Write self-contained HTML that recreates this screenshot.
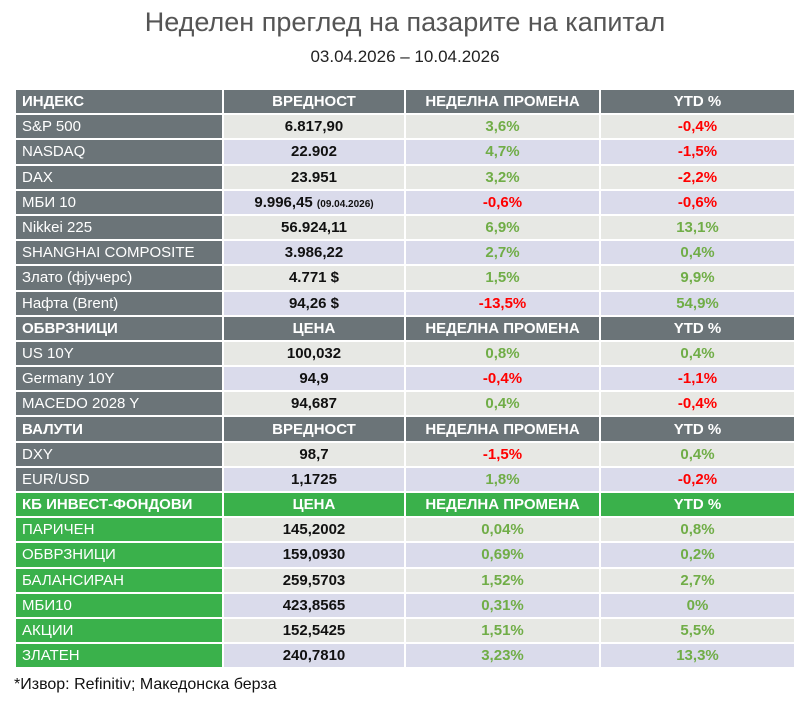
<!DOCTYPE html>
<html><head><meta charset="utf-8"><style>
body{margin:0;width:810px;height:706px;background:#fff;font-family:"Liberation Sans","Noto Sans CJK SC",sans-serif;position:relative;overflow:hidden}
.t{position:absolute;left:0;width:810px;text-align:center;color:#555}
table{position:absolute;left:14px;top:88px;border-collapse:collapse;table-layout:fixed;width:780px}
td{height:23.2px;padding:0;border:2px solid #fff;font-size:15px;text-align:center;font-weight:bold;color:#111;white-space:nowrap;overflow:hidden}
td:first-child{background:#6b7478;color:#fff;text-align:left;padding-left:6px;font-weight:normal}
tr.h td{background:#6b7478;color:#fff;font-weight:bold}
tr.g td{background:#3ab14b;color:#fff}
tr.g2 td:first-child{background:#3ab14b}
tr.a td:not(:first-child){background:#e7e8e4}
tr.b td:not(:first-child){background:#dadbeb}
.p{color:#70ad47!important}.n{color:#ff0000!important}
small{font-size:10px}
</style></head><body>
<div class="t" style="top:7px;font-size:27px">Неделен преглед на пазарите на капитал</div>
<div class="t" style="top:47px;font-size:17px;color:#222">03.04.2026 – 10.04.2026</div>
<table>
<colgroup><col style="width:208px"><col style="width:182px"><col style="width:195px"><col style="width:195px"></colgroup>
<tr class="h"><td style="font-weight:bold">ИНДЕКС</td><td>ВРЕДНОСТ</td><td>НЕДЕЛНА ПРОМЕНА</td><td>YTD %</td></tr>
<tr class="a"><td>S&amp;P 500</td><td>6.817,90</td><td class="p">3,6%</td><td class="n">-0,4%</td></tr>
<tr class="b"><td>NASDAQ</td><td>22.902</td><td class="p">4,7%</td><td class="n">-1,5%</td></tr>
<tr class="a"><td>DAX</td><td>23.951</td><td class="p">3,2%</td><td class="n">-2,2%</td></tr>
<tr class="b"><td>МБИ 10</td><td>9.996,45 <small>(09.04.2026)</small></td><td class="n">-0,6%</td><td class="n">-0,6%</td></tr>
<tr class="a"><td>Nikkei 225</td><td>56.924,11</td><td class="p">6,9%</td><td class="p">13,1%</td></tr>
<tr class="b"><td>SHANGHAI COMPOSITE</td><td>3.986,22</td><td class="p">2,7%</td><td class="p">0,4%</td></tr>
<tr class="a"><td>Злато (фјучерс)</td><td>4.771 $</td><td class="p">1,5%</td><td class="p">9,9%</td></tr>
<tr class="b"><td>Нафта (Brent)</td><td>94,26 $</td><td class="n">-13,5%</td><td class="p">54,9%</td></tr>
<tr class="h"><td style="font-weight:bold">ОБВРЗНИЦИ</td><td>ЦЕНА</td><td>НЕДЕЛНА ПРОМЕНА</td><td>YTD %</td></tr>
<tr class="a"><td>US 10Y</td><td>100,032</td><td class="p">0,8%</td><td class="p">0,4%</td></tr>
<tr class="b"><td>Germany 10Y</td><td>94,9</td><td class="n">-0,4%</td><td class="n">-1,1%</td></tr>
<tr class="a"><td>MACEDO 2028 Y</td><td>94,687</td><td class="p">0,4%</td><td class="n">-0,4%</td></tr>
<tr class="h"><td style="font-weight:bold">ВАЛУТИ</td><td>ВРЕДНОСТ</td><td>НЕДЕЛНА ПРОМЕНА</td><td>YTD %</td></tr>
<tr class="a"><td>DXY</td><td>98,7</td><td class="n">-1,5%</td><td class="p">0,4%</td></tr>
<tr class="b"><td>EUR/USD</td><td>1,1725</td><td class="p">1,8%</td><td class="n">-0,2%</td></tr>
<tr class="h g"><td style="font-weight:bold">КБ ИНВЕСТ-ФОНДОВИ</td><td>ЦЕНА</td><td>НЕДЕЛНА ПРОМЕНА</td><td>YTD %</td></tr>
<tr class="a g2"><td>ПАРИЧЕН</td><td>145,2002</td><td class="p">0,04%</td><td class="p">0,8%</td></tr>
<tr class="b g2"><td>ОБВРЗНИЦИ</td><td>159,0930</td><td class="p">0,69%</td><td class="p">0,2%</td></tr>
<tr class="a g2"><td>БАЛАНСИРАН</td><td>259,5703</td><td class="p">1,52%</td><td class="p">2,7%</td></tr>
<tr class="b g2"><td>МБИ10</td><td>423,8565</td><td class="p">0,31%</td><td class="p">0%</td></tr>
<tr class="a g2"><td>АКЦИИ</td><td>152,5425</td><td class="p">1,51%</td><td class="p">5,5%</td></tr>
<tr class="b g2"><td>ЗЛАТЕН</td><td>240,7810</td><td class="p">3,23%</td><td class="p">13,3%</td></tr>
</table>
<div style="position:absolute;left:14px;top:676px;font-size:16px;color:#111">*Извор: Refinitiv; Македонска берза</div>
</body></html>
